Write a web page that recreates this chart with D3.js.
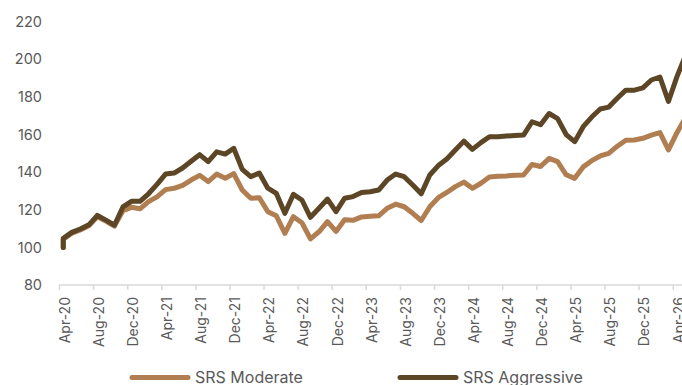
<!DOCTYPE html>
<html>
<head>
<meta charset="utf-8">
<script src="https://cdn.jsdelivr.net/npm/d3@7/dist/d3.min.js"></script>
<style>
  html, body { margin: 0; padding: 0; background: #fff; }
  svg { display: block; font-family: Inter, "Noto Sans", sans-serif; }
</style>
</head>
<body>
<svg id="chart" width="682" height="385"></svg>
<script>
// Monthly categories, Apr-20 onward
const months = [
  "Apr-20","May-20","Jun-20","Jul-20","Aug-20","Sep-20","Oct-20","Nov-20","Dec-20","Jan-21","Feb-21","Mar-21",
  "Apr-21","May-21","Jun-21","Jul-21","Aug-21","Sep-21","Oct-21","Nov-21","Dec-21","Jan-22","Feb-22","Mar-22",
  "Apr-22","May-22","Jun-22","Jul-22","Aug-22","Sep-22","Oct-22","Nov-22","Dec-22","Jan-23","Feb-23","Mar-23",
  "Apr-23","May-23","Jun-23","Jul-23","Aug-23","Sep-23","Oct-23","Nov-23","Dec-23","Jan-24","Feb-24","Mar-24",
  "Apr-24","May-24","Jun-24","Jul-24","Aug-24","Sep-24","Oct-24","Nov-24","Dec-24","Jan-25","Feb-25","Mar-25",
  "Apr-25","May-25","Jun-25","Jul-25","Aug-25","Sep-25","Oct-25","Nov-25","Dec-25","Jan-26","Feb-26","Mar-26",
  "Apr-26","May-26"
];

// Both portfolios are rebased to this value at inception
const startValue = 100;

const moderate = [
  104.3, 107.5, 109.3, 111.5, 116.3, 114.0, 111.3, 119.5, 121.3, 120.5, 124.3, 126.9,
  130.7, 131.4, 133.0, 135.8, 138.3, 135.0, 139.0, 136.8, 139.2, 130.5, 126.1, 126.4,
  119.0, 116.8, 107.5, 116.3, 113.1, 104.5, 108.3, 113.7, 108.5, 114.7, 114.4, 116.2,
  116.5, 116.8, 120.8, 123.0, 121.6, 118.1, 114.3, 121.6, 126.4, 129.2, 132.3, 134.7,
  131.4, 134.1, 137.4, 137.8, 138.0, 138.4, 138.5, 144.1, 143.0, 147.3, 145.6, 138.6,
  136.7, 142.8, 146.1, 148.6, 150.0, 153.8, 157.0, 157.1, 158.0, 159.7, 161.0, 151.8,
  161.0, 169.0
];

const aggressive = [
  104.8, 108.0, 109.8, 112.0, 117.0, 114.5, 111.8, 121.5, 124.5, 124.5, 128.5, 133.5,
  139.0, 139.5, 142.2, 145.8, 149.3, 145.6, 150.8, 149.6, 152.7, 141.5, 137.6, 139.5,
  131.5, 128.7, 118.1, 128.2, 125.2, 116.0, 120.8, 125.7, 119.0, 126.1, 127.0, 129.2,
  129.6, 130.5, 135.8, 139.0, 137.6, 133.2, 128.5, 138.5, 143.5, 147.0, 151.8, 156.5,
  152.1, 155.7, 158.8, 158.8, 159.2, 159.5, 159.7, 166.8, 165.2, 171.2, 168.5, 160.0,
  156.2, 164.2, 169.3, 173.6, 174.6, 179.3, 183.6, 183.6, 184.8, 189.0, 190.6, 177.6,
  190.8, 202.0
];

const seriesNames = ["SRS Moderate", "SRS Aggressive"];
const seriesColors = ["#b07e50", "#5c4626"];
const yTicks = [80, 100, 120, 140, 160, 180, 200, 220];
const labelEvery = 4;

const svg = d3.select("#chart");

// x works in month slots: slot k spans [k, k+1], values sit at slot centres
const x = d3.scaleLinear().domain([0, 72]).range([59, 672.7]);
const y = d3.scaleLinear().domain([80, 220]).range([285, 21.7]);

// y axis: labels only
const yAxis = svg.append("g")
  .attr("transform", "translate(48,0)")
  .call(d3.axisLeft(y).tickValues(yTicks).tickSize(0).tickPadding(6));
yAxis.select(".domain").remove();
yAxis.selectAll("text")
  .attr("fill", "#595959")
  .style("font-size", "14.5px")
  .style("font-family", "Inter, 'Noto Sans', sans-serif");

// x axis: baseline with tick marks at every fourth slot boundary
const tickSlots = d3.range(0, months.length + 1, labelEvery);
const xAxis = svg.append("g")
  .attr("transform", `translate(0,${y(80)})`)
  .call(d3.axisBottom(x).tickValues(tickSlots).tickSize(5).tickFormat(""));
xAxis.select(".domain")
  .attr("d", `M${x(0)},0H${x(months.length + 2)}`)
  .attr("stroke", "#d9d9d9").attr("stroke-width", 1.5);
xAxis.selectAll(".tick line").attr("stroke", "#d9d9d9").attr("stroke-width", 1.5);

// rotated month labels, centred on their slot
const labelled = months.map((m, i) => ({ m, i })).filter(d => d.i % labelEvery === 0);
svg.append("g").selectAll("text")
  .data(labelled)
  .join("text")
  .attr("transform", d => `translate(${x(d.i + 0.5) + 1.5},${y(80) + 12}) rotate(-90)`)
  .attr("text-anchor", "end")
  .attr("dy", "0.36em")
  .attr("fill", "#595959")
  .style("font-size", "14px")
  .text(d => d.m);

// series lines: start at the rebased value, then one point per month
const line = d3.line().x(d => x(d.i)).y(d => y(d.v));
[moderate, aggressive].forEach((vals, s) => {
  const pts = [{ i: 0.5, v: startValue }].concat(vals.map((v, i) => ({ i: i + 0.5, v })));
  svg.append("path")
    .datum(pts)
    .attr("fill", "none")
    .attr("stroke", seriesColors[s])
    .attr("stroke-width", 5)
    .attr("stroke-linejoin", "round")
    .attr("stroke-linecap", "round")
    .attr("d", line);
});

// legend
const legendX = [132, 400];
const legend = svg.append("g");
seriesNames.forEach((name, s) => {
  legend.append("line")
    .attr("x1", legendX[s]).attr("x2", legendX[s] + 56)
    .attr("y1", 377.5).attr("y2", 377.5)
    .attr("stroke", seriesColors[s]).attr("stroke-width", 5)
    .attr("stroke-linecap", "round");
  legend.append("text")
    .attr("x", legendX[s] + 63).attr("y", 377.5)
    .attr("dy", "0.36em")
    .attr("fill", "#595959")
    .style("font-size", "16px")
    .text(name);
});
</script>
</body>
</html>
